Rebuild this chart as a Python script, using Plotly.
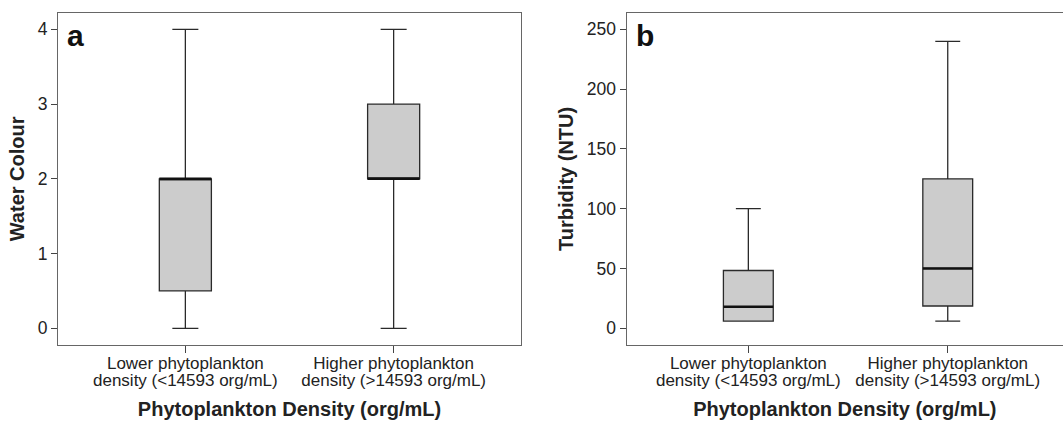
import plotly.graph_objects as go

# ---- data ----
cat_line1 = ["Lower phytoplankton", "Higher phytoplankton"]
cat_line2 = ["density (<14593 org/mL)", "density (>14593 org/mL)"]

# Panel a: Water Colour
colour_low = [0, 0]       # lower whisker
colour_q1 = [0.5, 2]
colour_median = [2, 2]
colour_q3 = [2, 3]
colour_high = [4, 4]      # upper whisker

# Panel b: Turbidity (NTU)
turb_low = [6, 6]
turb_q1 = [6, 18.6]
turb_median = [18, 50]
turb_q3 = [48.3, 125]
turb_high = [100, 240]

y_ticks_a = [0, 1, 2, 3, 4]
y_ticks_b = [0, 50, 100, 150, 200, 250]

FONT = "Liberation Sans, Arial, sans-serif"
BOX_W = 0.25
FILL = "#cccccc"
W, H = 1063, 421

fig = go.Figure()


def add_panel(lows, q1s, meds, q3s, highs, xa, ya):
    for i in range(len(cat_line1)):
        fig.add_trace(go.Box(
            x=[i], lowerfence=[lows[i]], q1=[q1s[i]], median=[meds[i]],
            q3=[q3s[i]], upperfence=[highs[i]],
            width=BOX_W, whiskerwidth=0.5, fillcolor=FILL,
            line=dict(color="#2a2a2a", width=1.3),
            boxpoints=False, showlegend=False, hoverinfo="skip",
            xaxis=xa, yaxis=ya))
        # thicker median line
        fig.add_trace(go.Scatter(
            x=[i - BOX_W / 2, i + BOX_W / 2], y=[meds[i], meds[i]],
            mode="lines", line=dict(color="#111111", width=2.6),
            showlegend=False, hoverinfo="skip", xaxis=xa, yaxis=ya))


add_panel(colour_low, colour_q1, colour_median, colour_q3, colour_high, "x", "y")
add_panel(turb_low, turb_q1, turb_median, turb_q3, turb_high, "x2", "y2")

ydom = [(H - 345) / H, (H - 12.7) / H]
dom_a = [58.3 / W, 520.7 / W]
dom_b = [626.7 / W, 1.0]
rng_a = [-0.61, 1.61]
rng_b = [-0.61, 1.578]

tickfont = dict(family=FONT, size=17, color="#222")
ytickfont = dict(family=FONT, size=17.5, color="#222")
title_font = dict(family=FONT, size=20, color="#222")

line1_x = dict(tickmode="array", tickvals=[0, 1], ticktext=cat_line1,
               ticks="outside", ticklen=7, tickcolor="#444", tickwidth=1.2,
               showline=True, linecolor="#666", linewidth=1.4,
               showgrid=False, zeroline=False, automargin=False,
               ticklabelstandoff=-5, tickfont=tickfont)
line2_x = dict(tickmode="array", tickvals=[0, 1], ticktext=cat_line2,
               ticks="outside", ticklen=7, tickcolor="rgba(0,0,0,0)",
               showline=False, showgrid=False, zeroline=False,
               automargin=False, ticklabelstandoff=13, tickfont=tickfont,
               title=dict(text="<b>Phytoplankton Density (org/mL)</b>",
                          font=title_font, standoff=12))
common_y = dict(ticks="outside", ticklen=6, tickcolor="#444", tickwidth=1.2,
                showline=True, linecolor="#666", linewidth=1.4,
                showgrid=False, zeroline=False, automargin=False,
                tickfont=ytickfont)

fig.update_layout(
    width=W, height=H,
    margin=dict(l=0, r=0, t=0, b=0),
    paper_bgcolor="white", plot_bgcolor="white",
    xaxis=dict(domain=dom_a, range=rng_a, mirror=True, **line1_x),
    xaxis2=dict(domain=dom_b, range=rng_b, anchor="y2", mirror=True, **line1_x),
    xaxis3=dict(domain=dom_a, range=rng_a, anchor="y", overlaying="x", **line2_x),
    xaxis4=dict(domain=dom_b, range=rng_b, anchor="y2", overlaying="x2", **line2_x),
    yaxis=dict(domain=ydom, range=[-0.223, 4.222], tickvals=y_ticks_a,
               mirror=True,
               title=dict(text="<b>Water Colour</b>", font=title_font,
                          standoff=7),
               **common_y),
    yaxis2=dict(domain=ydom, range=[-14.0, 263.9], tickvals=y_ticks_b,
                anchor="x2", mirror=False,
                title=dict(text="<b>Turbidity (NTU)</b>", font=title_font,
                           standoff=7),
                **common_y),
)

# invisible traces so the second-line axes are drawn
fig.add_trace(go.Scatter(x=[0, 1], y=[None, None], xaxis="x3", yaxis="y",
                         showlegend=False, hoverinfo="skip"))
fig.add_trace(go.Scatter(x=[0, 1], y=[None, None], xaxis="x4", yaxis="y2",
                         showlegend=False, hoverinfo="skip"))

for letter, xr, yr in [("a", "x domain", "y domain"), ("b", "x2 domain", "y2 domain")]:
    fig.add_annotation(text="<b>%s</b>" % letter, xref=xr, yref=yr,
                       x=0, y=1, xanchor="left", yanchor="top",
                       xshift=7, yshift=-4, showarrow=False,
                       font=dict(family=FONT, size=30, color="#111"))

fig.write_html("out.html",
               config={"displayModeBar": False},
               post_script="document.body.style.margin='0';"
                           "document.body.style.overflow='hidden';")
